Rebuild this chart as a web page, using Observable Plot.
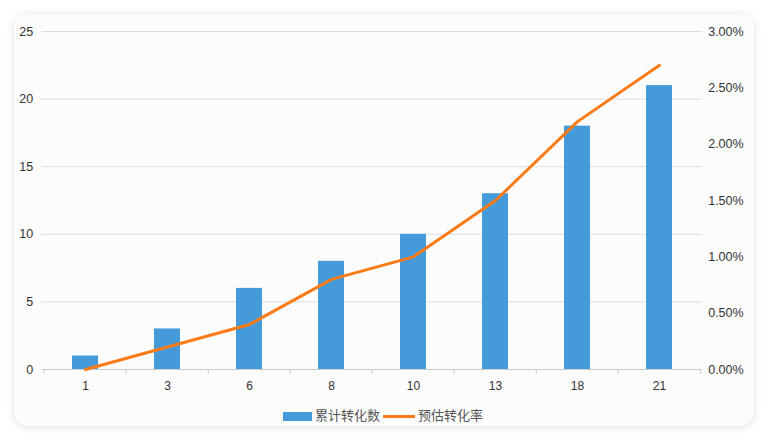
<!DOCTYPE html>
<html><head><meta charset="utf-8">
<script src="https://cdn.jsdelivr.net/npm/d3@7"></script>
<script src="https://cdn.jsdelivr.net/npm/@observablehq/plot@0.6"></script>
<style>
html,body{margin:0;padding:0;background:#fff;width:768px;height:440px;overflow:hidden;}
#card{position:absolute;left:14px;top:14px;width:740px;height:412px;border-radius:14px;background:#fcfcfc;box-shadow:0 1px 8px rgba(0,0,0,0.13);}
#chart{position:absolute;left:0;top:0;}
#legend{position:absolute;left:0;top:407px;width:768px;height:18px;font-family:"Noto Sans CJK SC",sans-serif;font-size:13px;color:#555;}
#legend .sw{position:absolute;}
#legend .tx{position:absolute;top:-1px;line-height:18px;}
</style></head>
<body>
<div id="card"></div>
<div id="chart"></div>
<div id="legend"></div>
<script>
const categories = ["1","3","6","8","10","13","18","21"];
const counts = [1, 3, 6, 8, 10, 13, 18, 21];
const rates = [0.0, 0.2, 0.4, 0.8, 1.0, 1.5, 2.2, 2.7]; // percent
const leftTicks = [0, 5, 10, 15, 20, 25];
const rightTickLabels = ["0.00%","0.50%","1.00%","1.50%","2.00%","2.50%","3.00%"];
const seriesNames = ["累计转化数", "预估转化率"];
const colors = ["#459bd9", "#fa7b17"];

const W = 768, H = 400, ML = 41.7, MR = 66.3, MT = 31, MB = 31;
const step = (W - ML - MR) / categories.length;
const rightMax = 3.0, leftMax = 25;
const scaleR = leftMax / rightMax;

const barData = categories.map((c, i) => ({c, v: counts[i]}));
const lineData = categories.map((c, i) => ({c, v: rates[i] * scaleR}));
const rightTickPos = rightTickLabels.map((_, i) => i * leftMax / (rightTickLabels.length - 1));

const font = "Helvetica, Arial, 'Liberation Sans', sans-serif";
const chart = Plot.plot({
  width: W, height: H,
  marginLeft: ML, marginRight: MR, marginTop: MT, marginBottom: MB,
  style: {fontFamily: font, fontSize: "12px", color: "#333", background: "transparent", overflow: "visible"},
  x: {type: "band", domain: categories, paddingInner: 0.68, paddingOuter: 0.34, axis: null, label: null},
  y: {domain: [0, leftMax], axis: null, label: null},
  marks: [
    Plot.gridY(leftTicks.filter(d => d > 0), {stroke: "#dcdcdc", strokeOpacity: 1}),
    Plot.barY(barData, {x: "c", y: "v", fill: colors[0]}),
    Plot.ruleY([0], {stroke: "#cccccc"}),
    Plot.ruleX(categories, {x: d => d, dx: -step / 2, y1: 0, y2: 0, insetBottom: -5, stroke: "#cccccc"}),
    Plot.ruleX([categories[categories.length - 1]], {x: d => d, dx: step / 2, y1: 0, y2: 0, insetBottom: -5, stroke: "#cccccc"}),
    Plot.line(lineData, {x: "c", y: "v", stroke: colors[1], strokeWidth: 3, curve: "linear"}),
    Plot.axisX({tickSize: 0, tickPadding: 12, fontSize: 12, fill: "#333", label: null}),
    Plot.axisY(leftTicks, {anchor: "left", tickSize: 0, tickPadding: 9, fontSize: 12.5, fill: "#333", label: null}),
    Plot.axisY(rightTickPos, {anchor: "right", tickSize: 0, tickPadding: 6, fontSize: 12.5, fill: "#333", label: null,
       tickFormat: (d, i) => rightTickLabels[i]})
  ]
});
document.getElementById("chart").appendChild(chart);

const lg = document.getElementById("legend");
lg.innerHTML =
  `<div class="sw" style="left:283px;top:5px;width:29px;height:9px;background:${colors[0]}"></div>` +
  `<div class="tx" style="left:315px">${seriesNames[0]}</div>` +
  `<div class="sw" style="left:383px;top:8px;width:32px;height:3px;background:${colors[1]}"></div>` +
  `<div class="tx" style="left:418px">${seriesNames[1]}</div>`;
</script>
</body></html>
